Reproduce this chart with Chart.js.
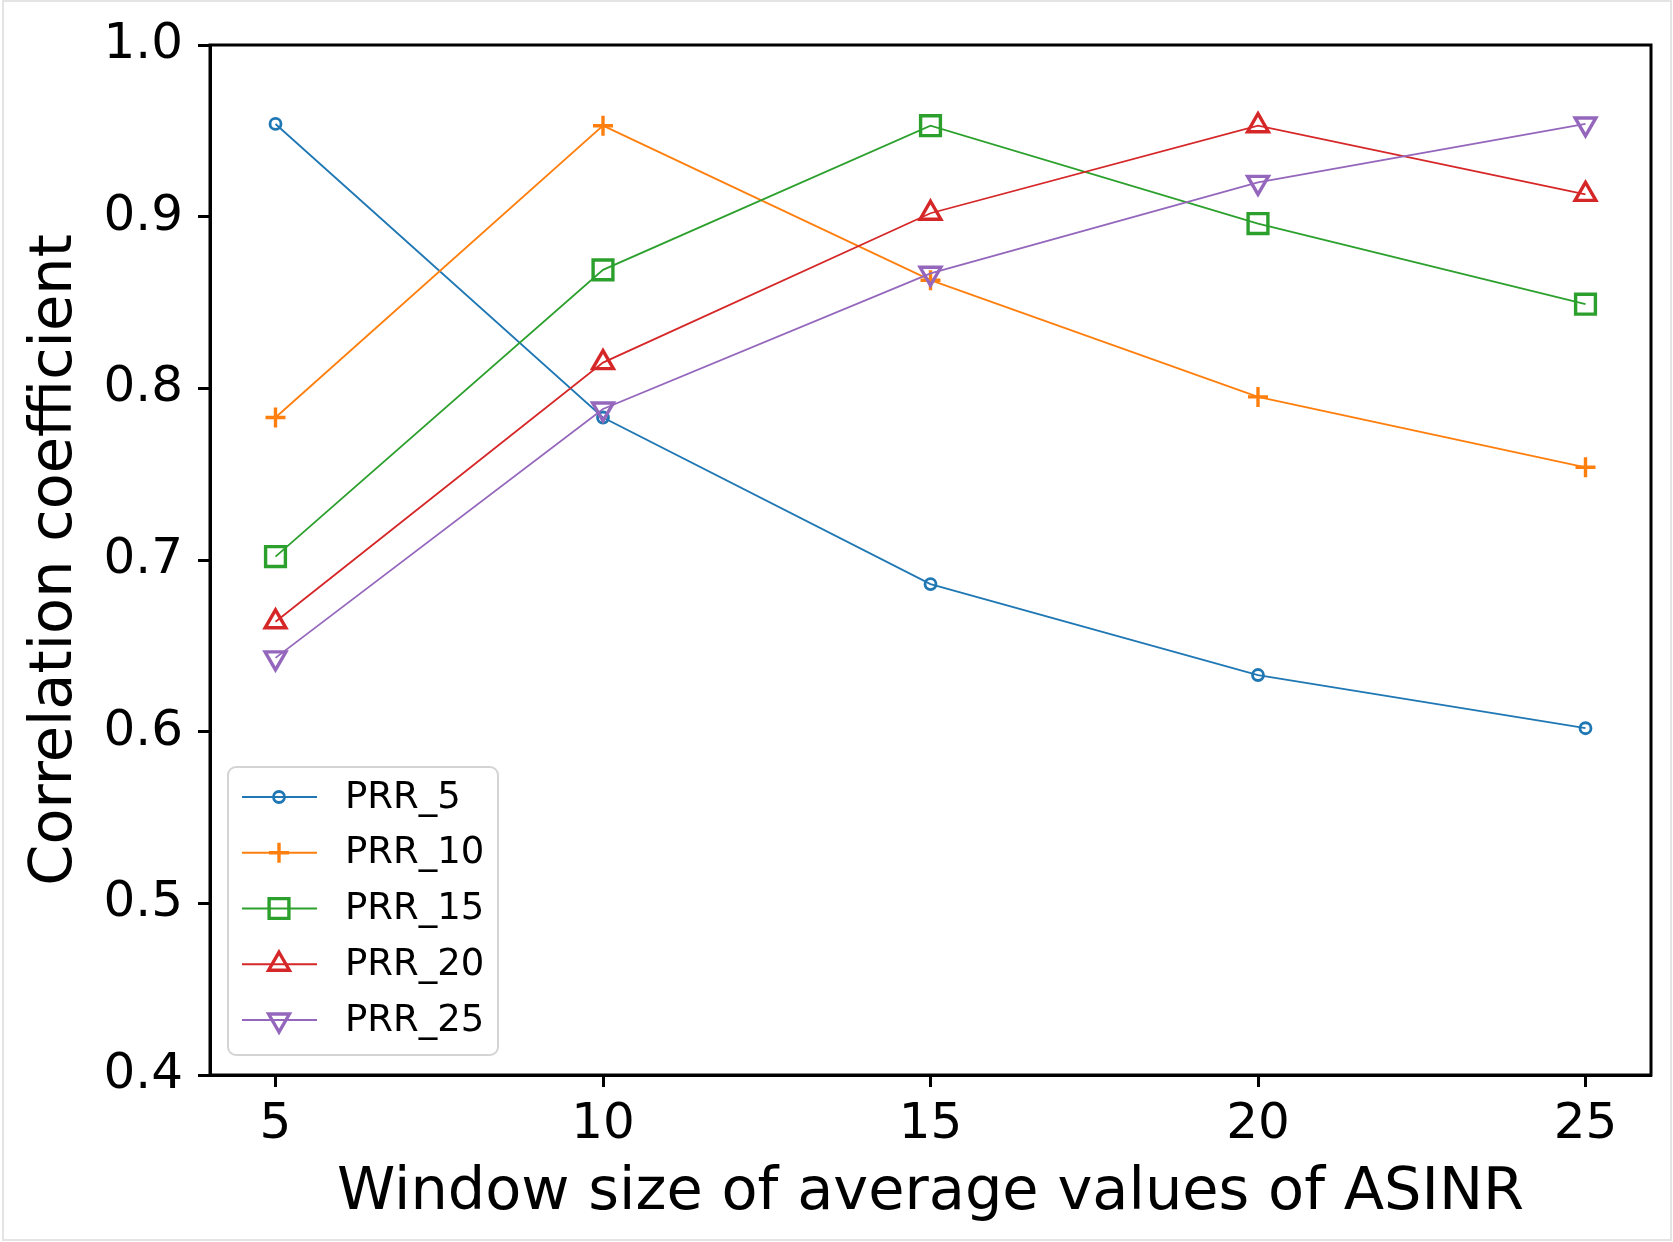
<!DOCTYPE html>
<html>
<head>
<meta charset="utf-8">
<script src="https://cdn.jsdelivr.net/npm/chart.js@4/dist/chart.umd.min.js"></script>
<style>
  html, body { margin: 0; padding: 0; background: #fff; }
  canvas { display: block; }
</style>
</head>
<body>
<canvas id="corrChart" width="1673" height="1242"></canvas>
<script>
// data
const windowSizes = [5, 10, 15, 20, 25];
const prr5  = [0.954, 0.783, 0.686, 0.633, 0.602];
const prr10 = [0.783, 0.953, 0.863, 0.795, 0.754];
const prr15 = [0.702, 0.869, 0.953, 0.896, 0.849];
const prr20 = [0.664, 0.815, 0.902, 0.953, 0.913];
const prr25 = [0.643, 0.788, 0.867, 0.920, 0.954];
const seriesNames = ['PRR_5', 'PRR_10', 'PRR_15', 'PRR_20', 'PRR_25'];
const xTicks = [5, 10, 15, 20, 25];
const yTicks = [0.4, 0.5, 0.6, 0.7, 0.8, 0.9, 1.0];

const FONT = "'DejaVu Sans', sans-serif";

// matplotlib-ish marker styles, one per series
const styles = [
  { color: '#1f77b4', pointStyle: 'circle',   radius: 5.5, border: 2.8, rotation: 0 },
  { color: '#ff7f0e', pointStyle: 'cross',    radius: 10,  border: 3.4, rotation: 0 },
  { color: '#2ca02c', pointStyle: 'rect',     radius: 14,  border: 3.4, rotation: 0 },
  { color: '#d62728', pointStyle: 'triangle', radius: 12,  border: 3.4, rotation: 0 },
  { color: '#9467bd', pointStyle: 'triangle', radius: 12,  border: 3.4, rotation: 180 }
];

const seriesValues = [prr5, prr10, prr15, prr20, prr25];

const datasets = seriesValues.map((vals, i) => ({
  label: seriesNames[i],
  data: vals.map((v, j) => ({ x: windowSizes[j], y: v })),
  borderColor: styles[i].color,
  borderWidth: 1.8,
  tension: 0,
  fill: false,
  pointStyle: styles[i].pointStyle,
  pointRadius: styles[i].radius,
  pointRotation: styles[i].rotation,
  pointBorderWidth: styles[i].border,
  pointBorderColor: styles[i].color,
  pointBackgroundColor: 'rgba(0,0,0,0)',
  order: seriesValues.length - i // later series drawn on top, like matplotlib
}));

/**
 * Box around plot area plus the light frame around the whole figure
 */
const framePlugin = {
  id: 'frame',
  afterDatasetsDraw(chart) {
    const { ctx, chartArea: a } = chart;
    ctx.save();
    ctx.strokeStyle = '#000';
    ctx.lineWidth = 3;
    ctx.strokeRect(a.left, a.top, a.right - a.left, a.bottom - a.top);
    ctx.strokeStyle = '#e4e4e4';
    ctx.lineWidth = 2;
    ctx.strokeRect(3, 1, chart.width - 5, chart.height - 3);
    ctx.restore();
  }
};

/**
 * Legend drawn inside the plot at lower-left, matplotlib style
 */
const insideLegend = {
  id: 'insideLegend',
  afterDraw(chart) {
    const ctx = chart.ctx;
    const box = { x: 228, y: 767, w: 270, h: 288 };
    ctx.save();
    ctx.beginPath();
    ctx.roundRect(box.x, box.y, box.w, box.h, 8);
    ctx.fillStyle = 'rgba(255,255,255,0.8)';
    ctx.fill();
    ctx.strokeStyle = '#d4d4d4';
    ctx.lineWidth = 2;
    ctx.stroke();

    chart.data.datasets.forEach((ds, i) => {
      const y = 797 + i * 55.75;
      ctx.strokeStyle = ds.borderColor;
      ctx.lineWidth = ds.borderWidth;
      ctx.beginPath();
      ctx.moveTo(242, y);
      ctx.lineTo(317, y);
      ctx.stroke();

      ctx.fillStyle = 'rgba(0,0,0,0)';
      ctx.strokeStyle = ds.pointBorderColor;
      ctx.lineWidth = ds.pointBorderWidth;
      Chart.helpers.drawPoint(ctx, {
        pointStyle: ds.pointStyle,
        radius: ds.pointRadius,
        rotation: ds.pointRotation,
        borderWidth: ds.pointBorderWidth
      }, 279, y);

      ctx.fillStyle = '#000';
      ctx.font = '37px ' + FONT;
      ctx.textAlign = 'left';
      ctx.textBaseline = 'middle';
      ctx.fillText(ds.label, 345, y + 1);
    });
    ctx.restore();
  }
};

function dropPadding(scale) {
  scale.paddingTop = 0;
  scale.paddingBottom = 0;
  scale.paddingLeft = 0;
  scale.paddingRight = 0;
}

new Chart(document.getElementById('corrChart').getContext('2d'), {
  type: 'line',
  data: { datasets },
  options: {
    responsive: false,
    devicePixelRatio: 1,
    animation: false,
    layout: { padding: { top: 45, right: 22, bottom: 0, left: 0 } },
    plugins: {
      legend: { display: false },
      tooltip: { enabled: false }
    },
    scales: {
      x: {
        type: 'linear',
        min: 4,
        max: 26,
        afterBuildTicks: scale => { scale.ticks = xTicks.map(v => ({ value: v })); },
        afterFit: scale => { scale.height = 167; dropPadding(scale); },
        ticks: {
          color: '#000',
          padding: 8,
          maxRotation: 0,
          font: { family: FONT, size: 50 },
          callback: v => String(v)
        },
        grid: { drawOnChartArea: false, drawTicks: true, tickLength: 12, tickWidth: 3, tickColor: '#000' },
        border: { display: true, color: '#000', width: 3 },
        title: {
          display: true,
          text: 'Window size of average values of ASINR',
          color: '#000',
          font: { family: FONT, size: 59 },
          padding: { top: 0, bottom: 13 }
        }
      },
      y: {
        type: 'linear',
        min: 0.4,
        max: 1.0,
        afterBuildTicks: scale => { scale.ticks = yTicks.map(v => ({ value: v })); },
        afterFit: scale => { scale.width = 210; dropPadding(scale); },
        ticks: {
          color: '#000',
          padding: 15,
          font: { family: FONT, size: 50 },
          callback: v => Number(v).toFixed(1)
        },
        grid: { drawOnChartArea: false, drawTicks: true, tickLength: 12, tickWidth: 3, tickColor: '#000' },
        border: { display: true, color: '#000', width: 3 },
        title: {
          display: true,
          text: 'Correlation coefficient',
          color: '#000',
          font: { family: FONT, size: 59 },
          padding: { top: 20, bottom: 0 }
        }
      }
    }
  },
  plugins: [framePlugin, insideLegend]
});
</script>
</body>
</html>
